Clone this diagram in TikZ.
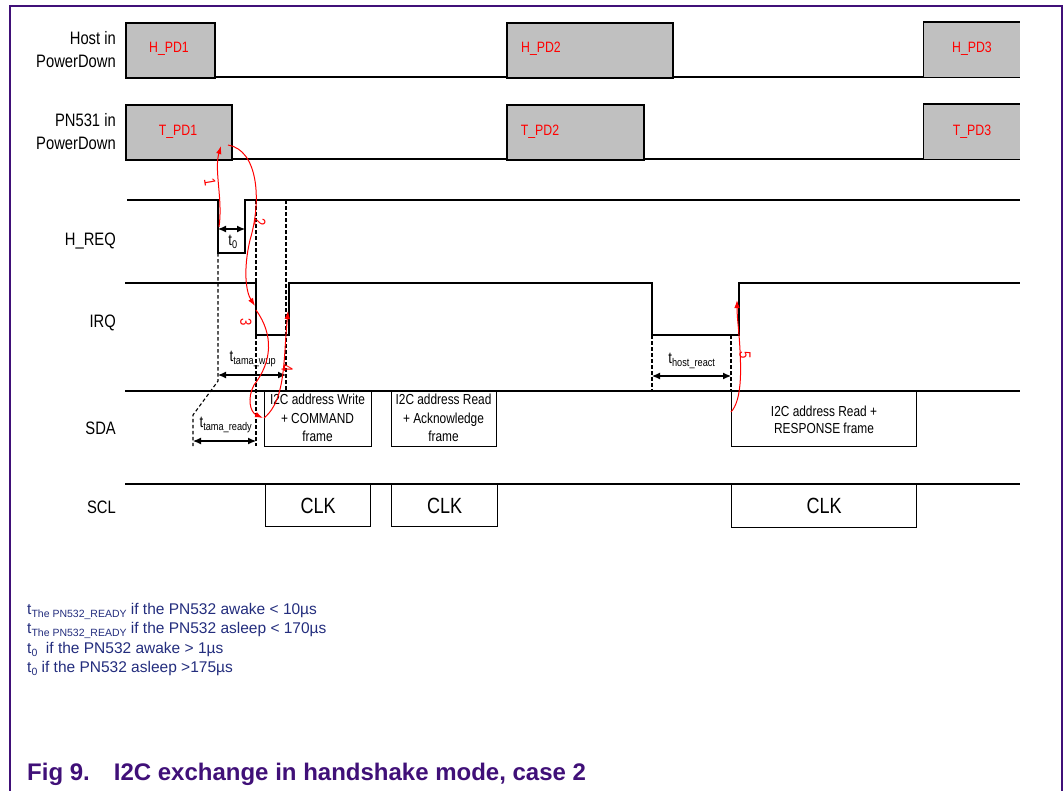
\documentclass[tikz,border=0pt]{standalone}
\usepackage{fontspec}
\setmainfont{Liberation Sans}
\newfontfamily\nfont[FakeStretch=0.82]{Liberation Sans}
\usetikzlibrary{arrows.meta}
\definecolor{nxpurple}{RGB}{64,16,120}
\definecolor{navytext}{RGB}{35,45,125}
\definecolor{pdgrey}{RGB}{192,192,192}
\begin{document}
\begin{tikzpicture}[x=1pt,y=-1pt,
  sig/.style={line width=1.6pt, black},
  pdbox/.style={fill=pdgrey, draw=black, line width=1.6pt, inner sep=0pt, anchor=north west},
  dbox/.style={draw=black, line width=1.3pt, fill=white, inner sep=0pt, anchor=north west, align=center},
  guide/.style={line width=1.1pt, dash pattern=on 3.5pt off 2.5pt},
  dim/.style={{Latex[length=8pt,width=7pt]}-{Latex[length=8pt,width=7pt]}, line width=1.1pt},
  seq/.style={red, line width=1pt, -{Latex[length=8pt,width=5.5pt]}},
  lbl/.style={font=\nfont\fontsize{18}{23}\selectfont, align=right, anchor=east, inner sep=0pt},
  pdtxt/.style={font=\nfont\fontsize{15}{16}\selectfont, text=red, inner sep=0pt},
  boxtxt/.style={font=\nfont\fontsize{14.5}{18.5}\selectfont},
  boxtxtb/.style={font=\nfont\fontsize{14.5}{16.5}\selectfont},
  clk/.style={font=\nfont\fontsize{22}{24}\selectfont},
  tl/.style={font=\nfont\fontsize{16}{16}\selectfont, inner sep=0pt},
  num/.style={font=\nfont\fontsize{16}{16}\selectfont, text=red, rotate=-90, inner sep=0pt},
  note/.style={font=\fontsize{15.5}{18}\selectfont, text=navytext, anchor=base west, inner sep=0pt}
]
\useasboundingbox (0,0) rectangle (1064,790);
% frame
\draw[nxpurple, line width=1.2pt] (10,800) -- (10,6) -- (1062,6) -- (1062,800);

% signal labels
\node[lbl] (lhost) at (116,50) {Host in\\PowerDown};
\node[lbl] (lpn) at (116,132) {PN531 in\\PowerDown};
\node[lbl] (lhreq) at (116,241) {H\_REQ};
\node[lbl] (lirq) at (116,323) {IRQ};
\node[lbl] (lsda) at (116,428) {SDA};
\node[lbl] (lscl) at (116,507) {SCL};

% Host in PowerDown
\draw[sig] (125,77) -- (1020,77);
\node[pdbox, minimum width=89pt, minimum height=55pt] (hpd1) at (125,22) {};
\node[pdbox, minimum width=166pt, minimum height=55pt] (hpd2) at (506,22) {};
\fill[pdgrey] (923.5,22) rectangle (1020,77);
\draw[sig] (923.5,77) -- (923.5,22) -- (1020,22);
\node[pdtxt] (thpd1) at (169,49) {H\_PD1};
\node[pdtxt] (thpd2) at (541,49) {H\_PD2};
\node[pdtxt] (thpd3) at (972,49) {H\_PD3};

% PN531 in PowerDown
\draw[sig] (125,159) -- (1020,159);
\node[pdbox, minimum width=106pt, minimum height=55pt] (tpd1) at (125,104) {};
\node[pdbox, minimum width=137pt, minimum height=55pt] (tpd2) at (506,104) {};
\fill[pdgrey] (923.5,104) rectangle (1020,159);
\draw[sig] (923.5,159) -- (923.5,104) -- (1020,104);
\node[pdtxt] (ttpd1) at (178,132) {T\_PD1};
\node[pdtxt] (ttpd2) at (540,132) {T\_PD2};
\node[pdtxt] (ttpd3) at (972,132) {T\_PD3};

% H_REQ
\draw[sig] (127,200) -- (218,200) -- (218,253) -- (245,253) -- (245,200) -- (1020,200);
% IRQ
\draw[sig] (125,283) -- (256,283) -- (256,335) -- (289,335) -- (289,283) -- (652,283)
  -- (652,335) -- (731,335) -- (739,335) -- (739,283) -- (1020,283);
% SDA
\draw[sig] (125,391) -- (1020,391);
\node[dbox, minimum width=107pt, minimum height=55pt] (sda1) at (264,391) {};
\node[dbox, minimum width=105pt, minimum height=55pt] (sda2) at (391,391) {};
\node[dbox, minimum width=185pt, minimum height=55pt] (sda3) at (731,391) {};
\node[boxtxt, align=center] (tsda1) at (317.5,418) {I2C address Write\\+ COMMAND\\frame};
\node[boxtxt, align=center] (tsda2) at (443.5,418) {I2C address Read\\+ Acknowledge\\frame};
\node[boxtxtb, align=center] (tsda3) at (824,420) {I2C address Read +\\RESPONSE frame};
% SCL
\draw[sig] (125,484) -- (1020,484);
\node[dbox, minimum width=105pt, minimum height=42pt, clk] (clk1) at (265,484) {CLK};
\node[dbox, minimum width=106pt, minimum height=42pt, clk] (clk2) at (391,484) {CLK};
\node[dbox, minimum width=185pt, minimum height=43pt, clk] (clk3) at (731,484) {CLK};

% guide lines
\draw[guide] (218,253) -- (218,381) -- (193,415) -- (193,446);
\draw[guide] (256,200) -- (256,283);
\draw[guide] (256,335) -- (256,446);
\draw[guide] (286,200) -- (286,391);
\draw[guide] (652,335) -- (652,391);
\draw[guide] (731,335) -- (731,391);

% dimension arrows
\coordinate (t0a) at (218,229); \coordinate (t0b) at (245,229);
\draw[dim] (t0a) -- (t0b);
\node[tl] (lt0) at (233,242) {t\textsubscript{0}};
\coordinate (twa) at (218,375); \coordinate (twb) at (286,375);
\draw[dim] (twa) -- (twb);
\node[tl] (ltw) at (253,359) {t\textsubscript{tama\_wup}};
\coordinate (tra) at (193,441); \coordinate (trb) at (256,441);
\draw[dim] (tra) -- (trb);
\node[tl] (ltr) at (226,425) {t\textsubscript{tama\_ready}};
\coordinate (tha) at (652,376); \coordinate (thb) at (731,376);
\draw[dim] (tha) -- (thb);
\node[tl] (lth) at (692,361) {t\textsubscript{host\_react}};

% red sequence arrows
\coordinate (s1a) at (219,227); \coordinate (s1b) at (221,146);
\draw[seq] (s1a) .. controls (223,200) and (214,170) .. (s1b);
\node[num, rotate=10] (n1) at (210,182) {1};
\coordinate (s2a) at (228,145); \coordinate (s2b) at (255,306);
\draw[seq] (s2a) .. controls (258,150) and (262,200) .. (250,240) .. controls (243,270) and (246,292) .. (s2b);
\node[num] (n2) at (260,222) {2};
\coordinate (s3a) at (256,310); \coordinate (s3b) at (263,418);
\draw[seq] (s3a) .. controls (274,335) and (272,362) .. (254,385) .. controls (247,398) and (250,412) .. (s3b);
\node[num] (n3) at (246,322) {3};
\coordinate (s4a) at (264,418); \coordinate (s4b) at (288,311);
\draw[seq] (s4a) .. controls (280,405) and (283,380) .. (285,350) .. controls (286,333) and (287,322) .. (s4b);
\node[num] (n4) at (287,368) {4};
\coordinate (s5a) at (731,412); \coordinate (s5b) at (737,300);
\draw[seq] (s5a) .. controls (742,400) and (741,370) .. (740,350) .. controls (739,330) and (737,318) .. (s5b);
\node[num] (n5) at (745,355) {5};

% notes
\node[note] (note1) at (27,614) {t{\fontsize{10.5}{12}\selectfont\raisebox{-3pt}{The PN532\_READY}} if the PN532 awake < 10µs};
\node[note] (note2) at (27,633) {t{\fontsize{10.5}{12}\selectfont\raisebox{-3pt}{The PN532\_READY}} if the PN532 asleep < 170µs};
\node[note] (note3) at (27,653) {t{\fontsize{10.5}{12}\selectfont\raisebox{-3pt}{0}} \ if the PN532 awake > 1µs};
\node[note] (note4) at (27,672) {t{\fontsize{10.5}{12}\selectfont\raisebox{-3pt}{0}} if the PN532 asleep >175µs};

% caption
\node[anchor=base west, inner sep=0pt, text=nxpurple, font=\bfseries\fontsize{24}{26}\selectfont] (cap) at (27,780) {Fig 9.\hspace{24pt}I2C exchange in handshake mode, case 2};
\end{tikzpicture}
\end{document}
